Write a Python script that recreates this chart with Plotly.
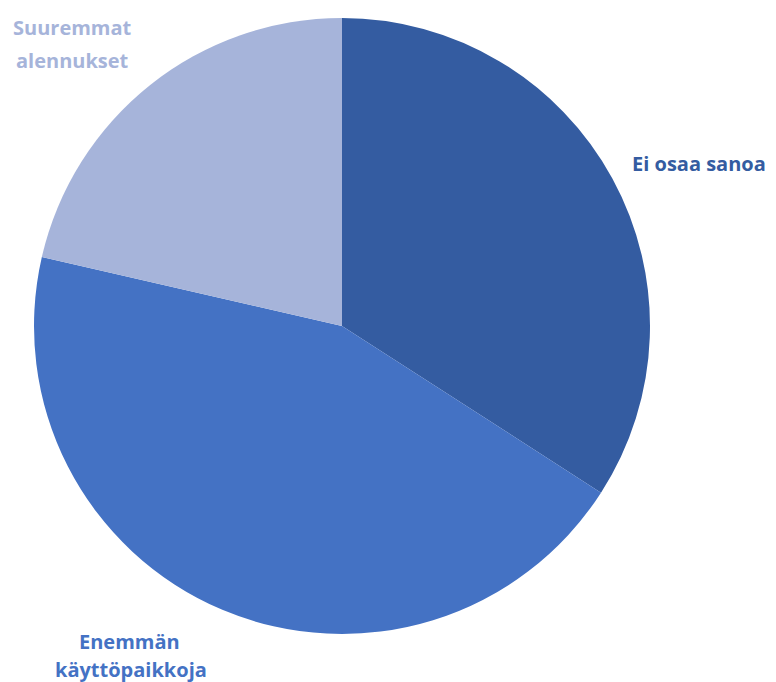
import plotly.graph_objects as go

labels = ["Ei osaa sanoa", "Enemmän käyttöpaikkoja", "Suuremmat alennukset"]
values = [34.1, 44.5, 21.4]
colors = ["#345CA1", "#4472C4", "#A6B4DA"]

W, H = 776, 682
OFF = 8  # page body margin
cx, cy, r = 342 - OFF, 326 - OFF, 308

fig = go.Figure(go.Pie(
    labels=labels, values=values, sort=False, direction="clockwise", rotation=0,
    marker=dict(colors=colors, line=dict(width=0)),
    textinfo="none", hoverinfo="label+percent", showlegend=False,
    domain=dict(x=[(cx - r) / W, (cx + r) / W], y=[(H - cy - r) / H, (H - cy + r) / H]),
))

font = "Open Sans"
def ann(text, x, y, color, xanchor="center"):
    fig.add_annotation(text="<b>%s</b>" % text, x=(x - OFF) / W, y=1 - (y - OFF) / H,
                       xref="paper", yref="paper",
                       showarrow=False, xanchor=xanchor, yanchor="middle",
                       font=dict(family=font, size=20, color=color))

ann("Suuremmat", 72, 28, colors[2])
ann("alennukset", 72, 60, colors[2])
ann("Ei osaa sanoa", 630, 163, colors[0], "left")
ann("Enemmän", 129, 641, colors[1])
ann("käyttöpaikkoja", 131, 669, colors[1])

fig.update_layout(width=W, height=H, margin=dict(l=0, r=0, t=0, b=0),
                  paper_bgcolor="white", plot_bgcolor="white")
fig.write_html("out.html")
